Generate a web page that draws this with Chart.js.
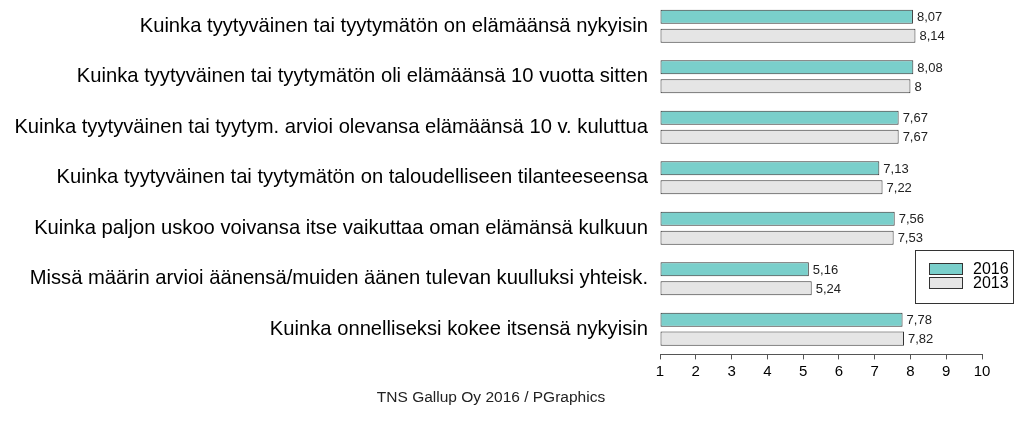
<!DOCTYPE html>
<html>
<head>
<meta charset="utf-8">
<script src="https://cdn.jsdelivr.net/npm/chart.js@4"></script>
<style>
  html, body { margin: 0; padding: 0; background: #fff; }
  #wrap { width: 1015px; height: 421px; }
</style>
</head>
<body>
<div id="wrap"><canvas id="grafico"></canvas></div>
<script>
// Kysymykset (ylhäältä alas)
const kysymykset = [
    'Kuinka tyytyväinen tai tyytymätön on elämäänsä nykyisin',
    'Kuinka tyytyväinen tai tyytymätön oli elämäänsä 10 vuotta sitten',
    'Kuinka tyytyväinen tai tyytym. arvioi olevansa elämäänsä 10 v. kuluttua',
    'Kuinka tyytyväinen tai tyytymätön on taloudelliseen tilanteeseensa',
    'Kuinka paljon uskoo voivansa itse vaikuttaa oman elämänsä kulkuun',
    'Missä määrin arvioi äänensä/muiden äänen tulevan kuulluksi yhteisk.',
    'Kuinka onnelliseksi kokee itsensä nykyisin'
];

// Keskiarvot
const arvot2016 = [8.07, 8.08, 7.67, 7.13, 7.56, 5.16, 7.78];
const arvot2013 = [8.14, 8.00, 7.67, 7.22, 7.53, 5.24, 7.82];

// Akselin asteikko
const asteikkoMin = 1;
const asteikkoMax = 10;

const fontti = 'Liberation Sans, Arial, sans-serif';

// Arvot palkkien perään
const arvoTekstit = {
    id: 'arvoTekstit',
    afterDatasetsDraw(chart) {
        const ctx = chart.ctx;
        ctx.save();
        ctx.font = '13px ' + fontti;
        ctx.fillStyle = '#222';
        ctx.textAlign = 'left';
        ctx.textBaseline = 'middle';
        chart.data.datasets.forEach((ds, i) => {
            chart.getDatasetMeta(i).data.forEach((bar, j) => {
                const teksti = String(ds.data[j]).replace('.', ',');
                ctx.fillText(teksti, bar.x + 4, bar.y + 1);
            });
        });
        ctx.restore();
    }
};

// Selite oikeaan alakulmaan
const selite = {
    id: 'selite',
    afterDraw(chart) {
        const ctx = chart.ctx;
        ctx.save();
        ctx.fillStyle = '#fff';
        ctx.fillRect(915, 250, 99, 53);
        ctx.strokeStyle = '#333';
        ctx.lineWidth = 1;
        ctx.strokeRect(915.5, 250.5, 98, 53);
        ctx.font = '16px ' + fontti;
        ctx.textBaseline = 'middle';
        chart.data.datasets.forEach((ds, i) => {
            const y = 263 + i * 14;
            ctx.fillStyle = ds.backgroundColor;
            ctx.fillRect(929, y, 34, 12);
            ctx.strokeStyle = '#333';
            ctx.strokeRect(929.5, y + 0.5, 33, 11);
            ctx.fillStyle = '#000';
            ctx.fillText(ds.label, 973, y + 6.5);
        });
        ctx.restore();
    }
};

new Chart(document.getElementById('grafico'), {
    type: 'bar',
    data: {
        labels: kysymykset,
        datasets: [{
            label: '2016',
            data: arvot2016,
            backgroundColor: '#7ACFCB',
            borderColor: '#333',
            borderWidth: 1,
            borderSkipped: false,
            base: asteikkoMin
        }, {
            label: '2013',
            data: arvot2013,
            backgroundColor: '#E5E5E5',
            borderColor: '#333',
            borderWidth: 1,
            borderSkipped: false,
            base: asteikkoMin
        }]
    },
    options: {
        indexAxis: 'y',
        responsive: true,
        maintainAspectRatio: false,
        animation: false,
        categoryPercentage: 0.75,
        barPercentage: 0.74,
        layout: { padding: { top: 1, right: 33, left: 0, bottom: 0 } },
        plugins: {
            legend: { display: false },
            tooltip: { enabled: false },
            title: {
                display: true,
                position: 'bottom',
                text: 'TNS Gallup Oy 2016 / PGraphics',
                color: '#222',
                font: { family: fontti, size: 15.5, weight: 'normal' },
                padding: { top: 5, bottom: 14 }
            }
        },
        scales: {
            x: {
                min: asteikkoMin,
                max: asteikkoMax,
                ticks: {
                    stepSize: 1,
                    color: '#000',
                    padding: 3,
                    font: { family: fontti, size: 15 }
                },
                grid: { drawOnChartArea: false, tickLength: 5, color: '#555' },
                border: { color: '#555' }
            },
            y: {
                grid: { display: false, drawTicks: false },
                border: { display: false },
                ticks: {
                    color: '#000',
                    padding: 12,
                    font: { family: fontti, size: 20.2 }
                },
                afterFit(scale) {
                    scale.width = 660;
                    scale.paddingTop = 0;
                    scale.paddingBottom = 0;
                }
            }
        }
    },
    plugins: [arvoTekstit, selite]
});
</script>
</body>
</html>
